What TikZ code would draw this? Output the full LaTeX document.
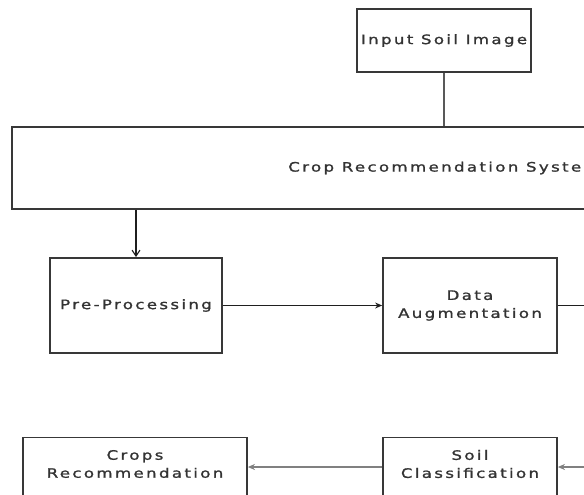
\documentclass[tikz,border=0pt]{standalone}
\usepackage{fontspec}
\newfontfamily\diagfont[FakeStretch=1.28, LetterSpace=18, FakeBold=1.3]{DejaVu Sans}
\usetikzlibrary{arrows.meta}
\begin{document}
\begin{tikzpicture}[x=1pt,y=-1pt,
  box/.style={draw=black!78, line width=1.8pt, fill=white, inner sep=0pt},
  txt/.style={font=\diagfont\fontsize{13}{18}\selectfont, text=black!80, align=center, inner sep=0pt},
  conn/.style={draw=black!88, line width=1.1pt},
  greyconn/.style={draw=black!50, line width=2.4pt},
  tip/.style={-{Stealth[length=7pt,width=6pt]}},
  barb/.style={-{Straight Barb[length=6pt,width=8pt]}}
]
\useasboundingbox (0,0) rectangle (584,495);
\clip (0,0) rectangle (584,495);
\fill[white] (0,0) rectangle (584,495);

% boxes
\node[box, txt, minimum width=174pt, minimum height=63pt] (input) at (444,40.5) {Input Soil Image};
\node[box, txt, minimum width=864pt, minimum height=82pt] (big) at (444,168) {Crop Recommendation System};
\node[box, txt, minimum width=172pt, minimum height=95pt] (pre) at (136,305.5) {Pre-Processing};
\node[box, txt, minimum width=174pt, minimum height=95pt] (data) at (470,305.5) {Data\\Augmentation};
\node[box, minimum width=224pt, minimum height=67pt] (crops) at (135,471) {};
\node[box, minimum width=174pt, minimum height=67pt] (soil) at (470,471) {};
\node[txt] (cropsT) at (135,464) {Crops\\Recommendation};
\node[txt] (soilT) at (470,464) {Soil\\Classification};

% connectors
\draw[greyconn, draw=black!65] (input.south) -- (big.north);
\draw[conn, barb] (big.south -| pre.north) -- (pre.north);
\draw[conn, tip] (pre.east) -- (data.west);
\coordinate (turnA) at (620,305.5);
\coordinate (turnB) at (620,467);
\draw[conn] (data.east) -- (turnA) -- (turnB);
\draw[greyconn, tip] (turnB) -- (soil.east |- turnB);
\draw[greyconn, tip] (soil.west |- turnB) -- (crops.east |- turnB);
\end{tikzpicture}
\end{document}
